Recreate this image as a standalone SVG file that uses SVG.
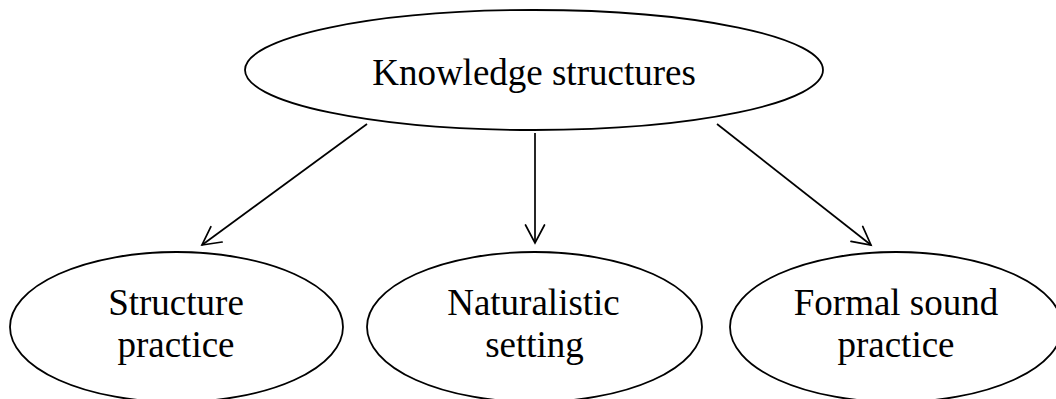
<svg xmlns="http://www.w3.org/2000/svg" width="1056" height="399" viewBox="0 0 1056 399">
  <defs>
    <style>
      .node { fill: #ffffff; stroke: #000000; stroke-width: 1.8; }
      .label { font-family: "Liberation Serif", "Times New Roman", serif; font-size: 37px; fill: #000000; text-anchor: middle; }
      .edge { fill: none; stroke: #000000; stroke-width: 1.7; }
    </style>
    <marker id="arrow" markerUnits="userSpaceOnUse" markerWidth="40" markerHeight="40" refX="0" refY="0" orient="auto" viewBox="-20 -20 40 40" overflow="visible">
      <path d="M-18,-9.5 L0,0 L-18,9.5" fill="none" stroke="#000000" stroke-width="1.7" stroke-linecap="round" stroke-linejoin="miter"/>
    </marker>
  </defs>
  <rect x="0" y="0" width="1056" height="399" fill="#ffffff"/>

  <g id="connectors">
    <line class="edge" x1="367" y1="124" x2="202" y2="245" marker-end="url(#arrow)"/>
    <line class="edge" x1="535" y1="133" x2="535" y2="243" marker-end="url(#arrow)"/>
    <line class="edge" x1="717" y1="124" x2="871" y2="245" marker-end="url(#arrow)"/>
  </g>

  <g id="knowledge-structures">
    <ellipse class="node" cx="534" cy="70" rx="289" ry="60"/>
    <text class="label" x="534" y="85">Knowledge structures</text>
  </g>

  <g id="structure-practice">
    <ellipse class="node" cx="176.5" cy="327" rx="166.5" ry="75"/>
    <text class="label" x="176" y="315">Structure</text>
    <text class="label" x="176" y="357">practice</text>
  </g>

  <g id="naturalistic-setting">
    <ellipse class="node" cx="534.5" cy="327" rx="167.5" ry="75"/>
    <text class="label" x="533.5" y="315">Naturalistic</text>
    <text class="label" x="534.5" y="357">setting</text>
  </g>

  <g id="formal-sound-practice">
    <ellipse class="node" cx="896" cy="327" rx="166" ry="75"/>
    <text class="label" x="896" y="315">Formal sound</text>
    <text class="label" x="896" y="357">practice</text>
  </g>
</svg>
